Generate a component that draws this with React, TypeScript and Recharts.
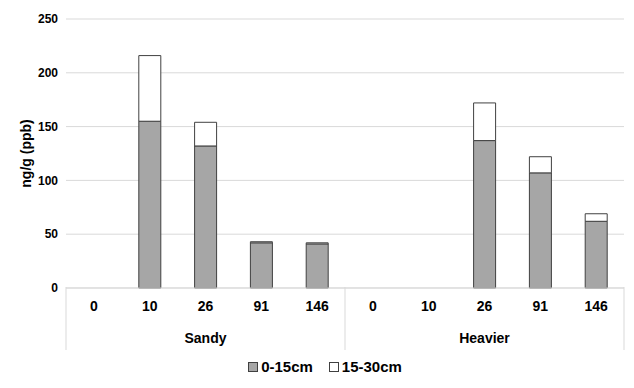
import { Bar, BarChart, CartesianGrid, Legend, XAxis, YAxis } from "recharts";

const categories = ["0", "10", "26", "91", "146", "0", "10", "26", "91", "146"];
const groups = ["Sandy", "Sandy", "Sandy", "Sandy", "Sandy", "Heavier", "Heavier", "Heavier", "Heavier", "Heavier"];
const shallow = [0, 155, 132, 42, 41, 0, 0, 137, 107, 62];
const deep = [0, 61, 22, 1, 1, 0, 0, 35, 15, 7];
const yTicks = [0, 50, 100, 150, 200, 250];

const data = categories.map((cat, i) => ({
  key: i,
  cat,
  group: groups[i],
  shallow: shallow[i],
  deep: deep[i],
}));

const FONT = "'Liberation Sans', Arial, sans-serif";
const GRID = "#D9D9D9";
const EDGE = "#404040";
const HALF_BAND = 27.9;

function CategoryTick({ x, y, payload, index }: any) {
  const half = payload?.offset || HALF_BAND;
  const lines: number[] = [];
  if (index === 0) lines.push(x - half);
  if (index === 5) lines.push(x - half);
  if (index === categories.length - 1) lines.push(x + half);
  return (
    <g>
      {lines.map((lx) => (
        <line key={lx} x1={lx} x2={lx} y1={287} y2={350} stroke={GRID} strokeWidth={1} />
      ))}
      <text x={x} y={y} dy={15} textAnchor="middle" fontFamily={FONT} fontSize={14} fontWeight={700} fill="#000">
        {categories[index]}
      </text>
    </g>
  );
}

function GroupTick({ x, y, index }: any) {
  if (index !== 2 && index !== 7) return null;
  return (
    <text x={x} y={y} dy={15} textAnchor="middle" fontFamily={FONT} fontSize={14} fontWeight={700} fill="#000">
      {groups[index]}
    </text>
  );
}

function LegendContent() {
  const items = [
    { label: "0-15cm", fill: "#A6A6A6" },
    { label: "15-30cm", fill: "#FFFFFF" },
  ];
  return (
    <div
      style={{
        display: "flex",
        justifyContent: "center",
        gap: 16,
        paddingTop: 4,
        paddingLeft: 26,
        fontFamily: FONT,
        fontSize: 15,
        fontWeight: 700,
        color: "#000",
      }}
    >
      {items.map((it) => (
        <span key={it.label} style={{ display: "flex", alignItems: "center", gap: 3 }}>
          <span style={{ width: 8, height: 8, background: it.fill, border: `1px solid ${EDGE}` }} />
          {it.label}
        </span>
      ))}
    </div>
  );
}

export default function App() {
  return (
    <BarChart
      width={634}
      height={388}
      data={data}
      margin={{ top: 19, right: 10, bottom: 4, left: 0 }}
      barSize={22}
      style={{ marginLeft: -8, marginTop: -8 }}
    >
      <CartesianGrid stroke={GRID} vertical={false} />
      <XAxis
        dataKey="key"
        xAxisId={0}
        height={32}
        axisLine={{ stroke: GRID }}
        tickLine={false}
        tick={<CategoryTick />}
        interval={0}
      />
      <XAxis
        dataKey="key"
        xAxisId={1}
        height={34}
        axisLine={false}
        tickLine={false}
        tick={<GroupTick />}
        interval={0}
      />
      <YAxis
        domain={[0, 250]}
        ticks={yTicks}
        width={66}
        axisLine={false}
        tickLine={false}
        tick={{ fontFamily: FONT, fontSize: 12, fontWeight: 700, fill: "#000" }}
        label={{
          value: "ng/g (ppb)",
          angle: -90,
          position: "insideLeft",
          offset: 26,
          style: { fontFamily: FONT, fontSize: 14, fontWeight: 700, fill: "#000", textAnchor: "middle" },
        }}
      />
      <Legend verticalAlign="bottom" height={30} content={<LegendContent />} />
      <Bar dataKey="shallow" stackId="a" fill="#A6A6A6" stroke={EDGE} strokeWidth={1} isAnimationActive={false} />
      <Bar dataKey="deep" stackId="a" fill="#FFFFFF" stroke={EDGE} strokeWidth={1} isAnimationActive={false} />
    </BarChart>
  );
}
